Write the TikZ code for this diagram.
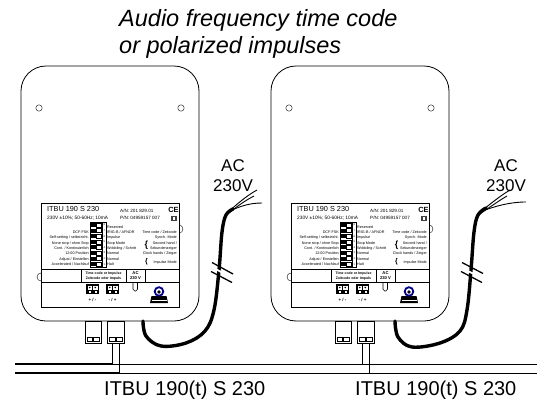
\documentclass[tikz,border=0pt]{standalone}
\usepackage{fontspec}
\setmainfont{Liberation Sans}
\tikzset{
  tiny/.style={inner sep=0pt, font=\fontsize{3.7}{4}\selectfont},
  lw/.style={tiny, anchor=base east},
  le/.style={tiny, anchor=base west},
  housing/.style={draw, line width=0.8pt, rounded corners=25pt},
  plate/.style={draw, fill=white, line width=0.6pt},
  plug/.style={draw, fill=white, line width=0.8pt},
  cable/.style={line width=3.4pt, line cap=round},
  strand/.style={line width=0.9pt},
  bus/.style={line width=0.7pt},
  busthick/.style={line width=1.6pt},
}
\newcommand\itbudevice{%
  \draw[housing] (21,66) rectangle (199,321);
  \draw (39,108) circle (3.2);
  \draw (181,108) circle (3.2);
  \draw (179,229) circle (4);
  \draw (41,277) circle (4);
  \draw[plate] (41,203) rectangle (179,307);
  \draw[line width=0.5pt] (41,269) -- (179,269);
  \draw[line width=0.5pt] (41,282) -- (179,282);
  \draw[line width=0.5pt] (81,269) -- (81,282) (126,269) -- (126,282) (145,269) -- (145,282);
  \node[anchor=base west, inner sep=0pt, font=\fontsize{7.3}{8}\selectfont] at (47,211.5) {ITBU 190 S 230};
  \node[anchor=base west, inner sep=0pt, font=\fontsize{4.8}{5}\selectfont] at (47,219.5) {230V ±10\%; 50-60Hz; 10mA};
  \node[anchor=base west, inner sep=0pt, font=\fontsize{4.6}{5}\selectfont] at (120,212.5) {A/N: 201 829.01};
  \node[anchor=base west, inner sep=0pt, font=\fontsize{4.6}{5}\selectfont] at (120,219.5) {P/N: 04959157 007};
  \node[inner sep=0pt, font=\fontsize{7.5}{8}\selectfont\bfseries] at (173.5,209.5) {CE};
  \fill[black!75] (171,215.5) rectangle (176.5,221);
  \fill[white] (172.5,217) rectangle (175,219.5);
  % DIP switch
  \draw[line width=0.5pt] (90,222) rectangle (106,267);
  \draw[line width=0.4pt] (102.5,222) -- (102.5,267);
  \foreach \i in {0,...,7}{
    \fill ({91},{223+5.6*\i}) rectangle ({96},{227+5.6*\i});
    \draw[line width=0.4pt] ({96},{223+5.6*\i}) rectangle ({101.5},{227+5.6*\i});
  }
  \foreach \i/\n in {0/8,1/7,2/6,3/5,4/4,5/3,6/2,7/1}{
    \node[inner sep=0pt, font=\fontsize{2.6}{3}\selectfont] at ({104.3},{225+5.6*\i}) {\n};
  }
  \node[lw] at (89,233) {DCF-FSK};
  \node[lw] at (89,238) {Self-setting / selbstricht.};
  \node[lw] at (89,244) {None stop / ohne Stop};
  \node[lw] at (89,249) {Cont. / Kontinuierlich};
  \node[lw] at (89,254) {12:00 Position};
  \node[lw] at (89,260) {Adjust / Einstellen};
  \node[lw] at (89,265) {Accelerated / Nachlauf};
  \node[le] at (107,228) {Reserved};
  \node[le] at (107,233) {IRIG-B / AFNOR};
  \node[le] at (107,238) {Impulse};
  \node[le] at (107,244) {Stop Mode};
  \node[le] at (107,249) {Wobbling / Schritt};
  \node[le] at (107,254) {Normal};
  \node[le] at (107,260) {Normal};
  \node[le] at (107,265) {Halt};
  \node[lw] at (177,233) {Time code / Zeitcode};
  \node[lw] at (177,238) {Synch. Mode};
  \node[lw] at (177,244) {Second hand /};
  \node[lw] at (177,249) {Sekundenzeiger};
  \node[lw] at (177,254) {Clock hands / Zeiger};
  \node[lw] at (177,263) {Impulse Mode};
  \node[inner sep=0pt, font=\fontsize{9}{9}\selectfont\bfseries] at (146.5,245.5) {\{};
  \node[inner sep=0pt, font=\fontsize{7}{7}\selectfont\bfseries] at (146.5,262) {\{};
  \node[tiny, font=\fontsize{3.5}{4}\selectfont\bfseries] at (103.5,273.5) {Time code or Impulse};
  \node[tiny, font=\fontsize{3.5}{4}\selectfont\bfseries] at (103.5,278.5) {Zeitcode oder Impuls};
  \node[tiny, font=\fontsize{4.2}{4}\selectfont\bfseries] at (135.5,273.3) {AC};
  \node[tiny, font=\fontsize{4.2}{4}\selectfont\bfseries] at (135.5,278.5) {230 V};
  % terminals
  \foreach \tx in {86,106}{
    \fill (\tx,284) rectangle ({\tx+13},294);
    \fill[white] ({\tx+1.5},285.5) rectangle ({\tx+6},289.5);
    \fill[white] ({\tx+7},285.5) rectangle ({\tx+11.5},289.5);
    \fill ({\tx+3.75},287.5) circle (0.9);
    \fill ({\tx+9.25},287.5) circle (0.9);
    \fill[white] ({\tx+2.5},291) rectangle ({\tx+4.5},293);
    \fill[white] ({\tx+8.5},291) rectangle ({\tx+10.5},293);
  }
  \node[tiny, font=\fontsize{4.5}{5}\selectfont\bfseries] at (92.5,300) {+ / -};
  \node[tiny, font=\fontsize{4.5}{5}\selectfont\bfseries] at (112.5,300) {- / +};
  \draw[line width=0.6pt, rounded corners=1.8pt] (133,282) -- (133,291) -- (137.5,291) -- (137.5,282);
  % logo
  \fill (150,303) -- (168,303) -- (166.5,296) -- (151.5,296) -- cycle;
  \fill[white] (151.5,299.5) rectangle (166.5,300.3);
  \draw[line width=1.8pt, blue!55!black] (159,291.5) circle (4.3);
  \fill (159,292) circle (1.8);
  % plugs below housing
  \draw[plug] (85,321) rectangle (101,343);
  \draw[line width=0.6pt] (87,337) rectangle (92.5,341) (93.5,337) rectangle (99,341);
  \draw[plug] (107,321) rectangle (124,343);
  \draw[line width=0.6pt] (109,337) rectangle (115,341) (116,337) rectangle (122,341);
}
\begin{document}
\begin{tikzpicture}[x=1pt,y=-1pt]
\useasboundingbox (0,0) rectangle (539,399);
\node[anchor=base west, inner sep=0pt, font=\fontsize{23.5}{27}\selectfont\itshape] (t1) at (119,26) {Audio frequency time code};
\node[anchor=base west, inner sep=0pt, font=\fontsize{23.5}{27}\selectfont\itshape] (t2) at (119,53) {or polarized impulses};

% left device
\itbudevice
% right device
\begin{scope}[xshift=250pt]
\itbudevice
\end{scope}

% cables
\draw[cable] plot[smooth, tension=0.6] coordinates {(143,321) (146,336) (161,346) (186,343) (205,331) (214,310) (219,270) (222,232) (226,215) (233,209)};
\draw[strand] (226,214) .. controls (236,205) and (246,196) .. (257,190);
\draw[strand] (228,212) .. controls (240,206) and (250,203) .. (262,203);
\draw[strand] (225,216) .. controls (236,207) and (246,200) .. (254,196);
\fill[white] (210,265) -- (236,279) -- (236,281) -- (210,267) -- cycle;
\draw[line width=1.3pt] (212,262.5) -- (233,274);
\draw[line width=1.3pt] (211,271.5) -- (232,282.5);

\draw[cable] plot[smooth, tension=0.6] coordinates {(395,321) (398,337) (412,347) (440,343) (460,331) (467,310) (471,270) (474,232) (478,215) (486,208)};
\draw[strand] (478,214) .. controls (490,204) and (500,196) .. (510,190);
\draw[strand] (480,212) .. controls (495,206) and (510,202) .. (526,202);
\draw[strand] (477,216) .. controls (490,207) and (500,200) .. (507,196);
\fill[white] (460,266) -- (486,279) -- (486,281) -- (460,268) -- cycle;
\draw[line width=1.3pt] (462,262.5) -- (483,273.5);
\draw[line width=1.3pt] (461,271.5) -- (482,282.5);

\node[inner sep=0pt, font=\fontsize{17}{20}\selectfont, align=center] (ac1) at (233,176) {AC\\230V};
\node[inner sep=0pt, font=\fontsize{17}{20}\selectfont, align=center] (ac2) at (506,176) {AC\\230V};

% bus
\coordinate (w1a) at (112,343); \coordinate (w1b) at (119,343);
\coordinate (w2a) at (362,343); \coordinate (w2b) at (369,343);
\coordinate (b1s) at (15,364); \coordinate (b2s) at (15,373);
\coordinate (b1e) at (537,364); \coordinate (b2e) at (537,373);
\draw[busthick] (b1s) -- (112,364);
\draw[busthick] (b2s) -- (119,373);
\draw[bus] (112,364) -- (b1e);
\draw[bus] (119,373) -- (b2e);
\draw[bus] (w1a) -- (112,364);
\draw[bus] (w1b) -- (119,373);
\draw[bus] (w2a) -- (362,364);
\draw[bus] (w2b) -- (369,373);

\node[anchor=base west, inner sep=0pt, font=\fontsize{20}{24}\selectfont] (n1) at (104,395) {ITBU 190(t) S 230};
\node[anchor=base west, inner sep=0pt, font=\fontsize{20}{24}\selectfont] (n2) at (355,395) {ITBU 190(t) S 230};
\end{tikzpicture}
\end{document}
